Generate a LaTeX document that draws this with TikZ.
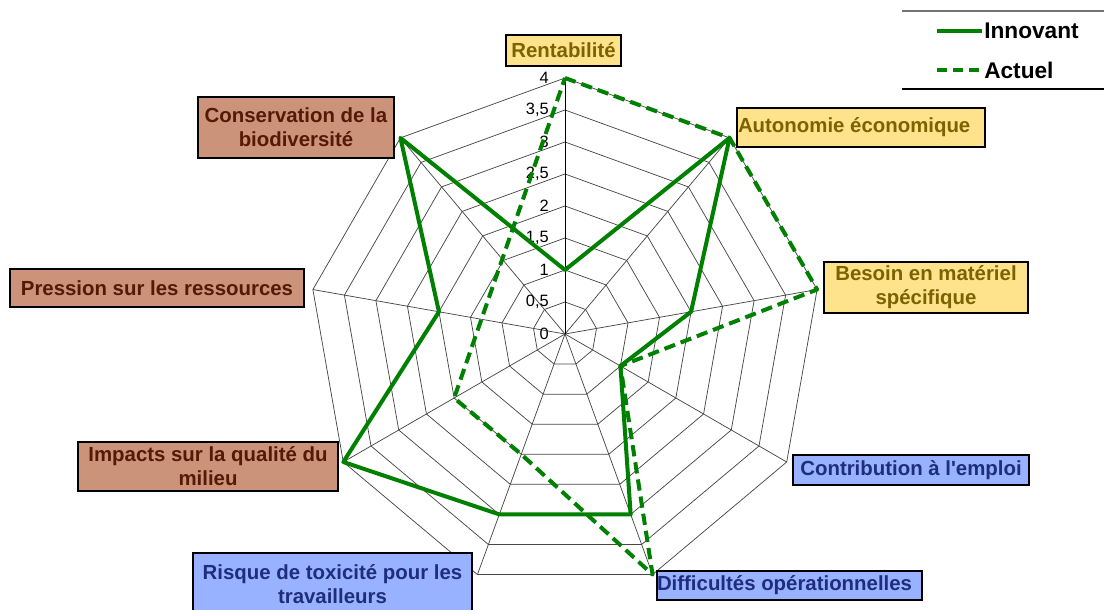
\documentclass[tikz,border=0pt]{standalone}
\usepackage{fontspec}
\setmainfont{Liberation Sans}
\newfontfamily\plainarial{Liberation Sans}
\newcommand{\px}{0.75pt}
\definecolor{yfill}{RGB}{255,226,140}
\definecolor{ytext}{RGB}{125,98,0}
\definecolor{bfill}{RGB}{203,148,122}
\definecolor{btext}{RGB}{85,25,5}
\definecolor{lfill}{RGB}{153,178,255}
\definecolor{ltext}{RGB}{30,45,125}
\definecolor{dgreen}{RGB}{0,128,0}
\begin{document}
\begin{tikzpicture}[x=0.75pt,y=0.75pt,
  lab/.style={draw=black, line width=1.2pt, inner sep=0pt, align=center,
    font=\fontsize{15.3}{18}\selectfont\bfseries},
  ylab/.style={lab, fill=yfill, text=ytext},
  blab/.style={lab, fill=bfill, text=btext},
  llab/.style={lab, fill=lfill, text=ltext},
  gridline/.style={draw=black!72, line width=0.55pt},
  axisline/.style={draw=black, line width=0.6pt},
  innov/.style={draw=dgreen, line width=3pt, line join=round},
  actu/.style={draw=dgreen, line width=3pt, dash pattern=on 8.5pt off 4.5pt, line join=round},
  tick/.style={font=\fontsize{12.3}{14}\selectfont, anchor=east, inner sep=0pt},
  legtext/.style={font=\fontsize{17}{19}\selectfont\bfseries, anchor=west, inner sep=0pt}]
\useasboundingbox (0,0) rectangle (1104,610);

% radar grid
\begin{scope}[shift={(565,276)}]
  \foreach \k [evaluate=\k as \r using \k*32] in {1,...,8}
    \draw[gridline] (90:\r) \foreach \a in {50,10,-30,-70,-110,-150,170,130} {-- (\a:\r)} -- cycle;
  \foreach \a in {50,10,-30,-70,-110,-150,170,130}
    \draw[gridline] (0,0) -- (\a:256);
  \coordinate (c) at (0,0);
  \coordinate (top) at (90:256);
  \draw[axisline] (c) -- (top);
  \foreach \k/\t in {0/0,1/{0,5},2/1,3/{1,5},4/2,5/{2,5},6/3,7/{3,5},8/4}
    \node[tick] (tk\k) at (-16,\k*32) {\t};

  % Innovant values 1,4,2,1,3,3,4,2,4
  \coordinate (i1) at (90:64);
  \coordinate (i2) at (50:256);
  \coordinate (i3) at (10:128);
  \coordinate (i4) at (-30:64);
  \coordinate (i5) at (-70:192);
  \coordinate (i6) at (-110:192);
  \coordinate (i7) at (-150:256);
  \coordinate (i8) at (170:128);
  \coordinate (i9) at (130:256);
  \draw[innov] (i1) -- (i2) -- (i3) -- (i4) -- (i5) -- (i6) -- (i7) -- (i8) -- (i9) -- cycle;

  % Actuel values 4,4,4,1,4,2,2
  \coordinate (a1) at (90:256);
  \coordinate (a2) at (50:256);
  \coordinate (a3) at (10:256);
  \coordinate (a4) at (-30:64);
  \coordinate (a5) at (-70:256);
  \coordinate (a6) at (-110:128);
  \coordinate (a7) at (-150:128);
  \draw[actu] (a1) -- (a2) -- (a3) -- (a4) -- (a5) -- (a6) -- (a7) -- cycle;
\end{scope}

% labels
\node[ylab, minimum width=115*\px, minimum height=31*\px] (rent) at (563.5,559.5) {Rentabilité};
\node[ylab, minimum width=248*\px, minimum height=39*\px] (auto) at (861,482.5) {};
\node[lab, draw=none, fill=none, text=ytext, anchor=west] (autot) at ([xshift=1*\px]auto.west) {Autonomie économique};
\node[ylab, minimum width=204*\px, minimum height=51*\px] (besoin) at (926,322.5) {Besoin en matériel\\spécifique};
\node[llab, minimum width=236*\px, minimum height=30*\px] (contrib) at (911,140) {\plainarial Contribution à l'emploi};
\node[llab, minimum width=265*\px, minimum height=29*\px] (diff) at (789.5,24.5) {};
\node[lab, draw=none, fill=none, text=ltext, anchor=west] (difft) at (diff.west) {Difficultés opérationnelles};
\node[llab, minimum width=279*\px, minimum height=62*\px] (risque) at (332.5,26) {Risque de toxicité pour les\\travailleurs};
\node[blab, minimum width=260*\px, minimum height=49*\px] (impacts) at (208,143.5) {Impacts sur la qualité du\\milieu};
\node[blab, minimum width=294*\px, minimum height=38*\px] (pression) at (157,322) {Pression sur les ressources};
\node[blab, minimum width=196*\px, minimum height=61*\px] (conserv) at (296,482.5) {Conservation de la\\biodiversité};

% legend
\coordinate (lt1) at (902,599);
\coordinate (lt2) at (1104,599);
\coordinate (lb1) at (902,521);
\coordinate (lb2) at (1104,521);
\draw[black!55, line width=1.1pt] (lt1) -- (lt2);
\draw[black, line width=1.1pt] (lb1) -- (lb2);
\coordinate (ls1) at (937,579);
\coordinate (ls2) at (982,579);
\coordinate (ld1) at (937,540);
\coordinate (ld2) at (982,540);
\draw[innov] (ls1) -- (ls2);
\draw[draw=dgreen, line width=3pt, dash pattern=on 7.5pt off 4.5pt] (ld1) -- (ld2);
\node[legtext] (leginn) at (984,579) {Innovant};
\node[legtext] (legact) at (984,540) {Actuel};
\end{tikzpicture}
\end{document}
